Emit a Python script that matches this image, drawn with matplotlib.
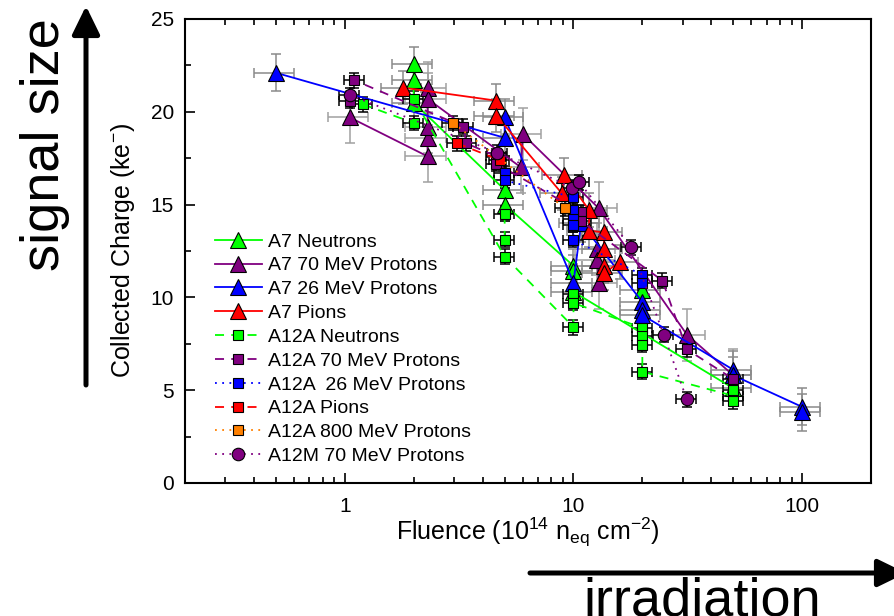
import numpy as np
import matplotlib
matplotlib.use("Agg")
import matplotlib.pyplot as plt
from matplotlib.ticker import LogLocator, MultipleLocator, FixedLocator, NullFormatter

plt.rcParams['font.family'] = ['Liberation Sans', 'DejaVu Sans']
plt.rcParams['mathtext.fontset'] = 'custom'
plt.rcParams['mathtext.rm'] = 'Liberation Sans'
plt.rcParams['mathtext.it'] = 'Liberation Sans:italic'

nan = np.nan

# ---------------- data (fluence in 1e14 neq/cm2, charge in ke-) ----------------
a7_neutrons_x = [2.0, 2.0, 2.0, 5.0, 5.0, 10, 10, 10, 50, nan, 20]
a7_neutrons_y = [22.6, 21.7, 20.5, 15.8, 15.0, 11.7, 11.4, 10.3, 5.1, nan, 10.4]

a7_p70_x = [1.05, 2.3, 2.3, 2.3, 2.3, 2.3, 5.9, 6.0, 12.9, 31.3, 50, nan, 12.7, 12.7, 12.9]
a7_p70_y = [19.7, 17.6, 18.6, 19.2, 21.3, 20.7, 17.0, 18.8, 14.8, 8.0, 5.8, nan, 12.6, 12.0, 10.8]

a7_p26_x = [0.5, 5.0, 5.0, 10, 10.8, 20, 20, 20, 50, 50, 100, 100]
a7_p26_y = [22.1, 18.6, 19.7, 10.8, 14.0, 9.75, 9.3, 9.05, 6.1, 5.8, 4.1, 3.8]

a7_pions_x = [1.8, 4.6, 4.6, 8.9, 9.1, 11.7, 11.7, 13.6, 13.6, 13.6, 13.6, 15.9]
a7_pions_y = [21.3, 20.6, 19.8, 15.6, 16.6, 14.7, 13.6, 13.5, 12.6, 11.7, 11.3, 11.9]

a12a_neutrons_x = [1.2, 2.0, 2.0, 5.0, 10, 10, 10, 20, 20, 20, 20, 50, 50, 50, nan, 5.0, 5.0]
a12a_neutrons_y = [20.4, 19.4, 20.7, 12.2, 8.4, 10.2, 9.7, 8.35, 7.9, 7.45, 6.0, 4.7, 5.0, 4.4, nan, 13.1, 14.5]

a12a_p70_x = [1.05, 1.1, 3.3, 3.4, 4.6, 4.6, 10.8, 10.8, 24.5, 31.3, 50]
a12a_p70_y = [20.6, 21.7, 19.2, 18.3, 17.6, 17.2, 14.6, 14.1, 10.9, 7.2, 5.6]

a12a_p26_x = [5.0, 5.0, 10, 10, 10, 10, 10, 20, 20]
a12a_p26_y = [16.7, 16.3, 15.4, 14.7, 14.2, 13.9, 13.1, 11.2, 10.8]

a12a_pions_x = [3.1, 4.75]
a12a_pions_y = [18.3, 17.4]

a12a_p800_x = [2.97, 9.2]
a12a_p800_y = [19.4, 14.8]

a12m_p70_x = [1.05, 4.65, 9.9, 10.6, 17.9, 24.8, 31.3]
a12m_p70_y = [20.9, 17.8, 15.9, 16.2, 12.7, 8.0, 4.5]

labels = ["A7 Neutrons", "A7 70 MeV Protons", "A7 26 MeV Protons", "A7 Pions",
          "A12A Neutrons", "A12A 70 MeV Protons", "A12A  26 MeV Protons", "A12A Pions",
          "A12A 800 MeV Protons", "A12M 70 MeV Protons"]
# relative fluence error and absolute charge error per series
xerr_rel = [0.2, 0.2, 0.2, 0.2, 0.1, 0.1, 0.1, 0.1, 0.1, 0.1]
yerr_abs = [0.9, 1.4, 1.0, 0.9, 0.4, 0.4, 0.4, 0.4, 0.4, 0.4]

xticks = [1, 10, 100]
yticks = [0, 5, 10, 15, 20, 25]

# ---------------- styles ----------------
GREEN, PURPLE, BLUE, RED, ORANGE = '#00FF00', '#800080', '#0000FF', '#FF0000', '#FF8000'
series = [
    (a7_neutrons_x, a7_neutrons_y, GREEN, '^', '-', 11, '#8a8a8a'),
    (a7_p70_x, a7_p70_y, PURPLE, '^', '-', 11, '#a0a0a0'),
    (a7_p26_x, a7_p26_y, BLUE, '^', '-', 11, '#8a8a8a'),
    (a7_pions_x, a7_pions_y, RED, '^', '-', 11, '#8a8a8a'),
    (a12a_neutrons_x, a12a_neutrons_y, GREEN, 's', (0, (5, 4)), 7.5, 'k'),
    (a12a_p70_x, a12a_p70_y, PURPLE, 's', (0, (5, 4)), 7.5, 'k'),
    (a12a_p26_x, a12a_p26_y, BLUE, 's', (0, (1, 3)), 7.5, 'k'),
    (a12a_pions_x, a12a_pions_y, RED, 's', (0, (5, 4)), 7.5, 'k'),
    (a12a_p800_x, a12a_p800_y, ORANGE, 's', (0, (1, 3)), 7.5, 'k'),
    (a12m_p70_x, a12m_p70_y, PURPLE, 'o', (0, (1, 3)), 9, 'k'),
]

W, H = 894, 616
fig = plt.figure(figsize=(W / 100, H / 100), dpi=100)
ax = fig.add_axes([185 / W, (H - 483) / H, 686 / W, 464 / H])

for i, (x, y, c, m, ls, ms, ecol) in enumerate(series):
    xa = np.array(x, dtype=float)
    ya = np.array(y, dtype=float)
    ok = ~np.isnan(xa)
    ax.errorbar(xa[ok], ya[ok], xerr=xa[ok] * xerr_rel[i], yerr=yerr_abs[i], fmt='none',
                ecolor=ecol, elinewidth=1.1, capsize=3.5, capthick=1.1, zorder=2)
for i, (x, y, c, m, ls, ms, ecol) in enumerate(series):
    ax.plot(x, y, color=c, linestyle=ls, linewidth=1.3, marker=m, markersize=ms,
            markerfacecolor=c, markeredgecolor='k', markeredgewidth=0.8,
            label=labels[i], zorder=3)

ax.set_xscale('log')
ax.set_xlim(0.2, 200)
ax.set_ylim(0, 25)
ax.xaxis.set_major_locator(FixedLocator(xticks))
ax.set_xticklabels([str(t) for t in xticks])
ax.xaxis.set_minor_locator(LogLocator(base=10, subs=np.arange(2, 10), numticks=20))
ax.xaxis.set_minor_formatter(NullFormatter())
ax.set_yticks(yticks)
ax.yaxis.set_minor_locator(MultipleLocator(2.5))
ax.tick_params(which='both', direction='in', top=True, right=False, width=1.2, labelsize=15)
ax.tick_params(which='major', length=7)
ax.tick_params(which='minor', length=4.5)
ax.tick_params(axis='x', pad=10)
ax.tick_params(axis='y', pad=8)
for s in ax.spines.values():
    s.set_linewidth(1.5)

ax.set_xlabel(r'Fluence (10$^{\mathregular{14}}$ n$_{\mathregular{eq}}$ cm$^{\mathregular{-2}}$)', fontsize=18)
ax.set_ylabel(r'Collected Charge (ke$^{\mathregular{-}}$)', fontsize=18)
ax.xaxis.set_label_coords(0.5, -0.07)
ax.yaxis.set_label_coords(-0.07, 0.5)

leg = ax.legend(loc='upper left', bbox_to_anchor=(215 / W, (H - 233) / H),
                bbox_transform=fig.transFigure, frameon=False, fontsize=14,
                borderpad=0, borderaxespad=0, handlelength=2.4, handletextpad=0.3,
                labelspacing=0.32)

# annotation arrows and texts
ax.annotate('', xy=(86, H - 6), xytext=(86, H - 385), xycoords='figure pixels',
            textcoords='figure pixels', annotation_clip=False,
            arrowprops=dict(arrowstyle='-|>,head_length=0.86,head_width=0.42',
                            mutation_scale=20, lw=3.6, color='k', shrinkA=0, shrinkB=0))
ax.annotate('', xy=(906, H - 573), xytext=(530, H - 573), xycoords='figure pixels',
            textcoords='figure pixels', annotation_clip=False,
            arrowprops=dict(arrowstyle='-|>,head_length=0.86,head_width=0.42',
                            mutation_scale=20, lw=3.6, color='k', shrinkA=0, shrinkB=0))
fig.text(45 / W, (H - 145) / H, 'signal size', rotation=90, fontsize=39,
         ha='center', va='center')
fig.text(702 / W, 1 / H, 'irradiation', fontsize=39, ha='center', va='baseline')

fig.savefig('out.png', dpi=100)
